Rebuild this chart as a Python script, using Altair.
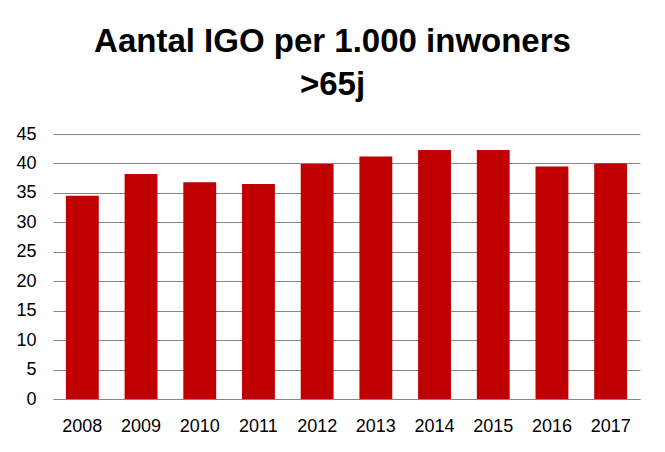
import altair as alt
import pandas as pd

years = ["2008", "2009", "2010", "2011", "2012", "2013", "2014", "2015", "2016", "2017"]
values = [34.5, 38.2, 36.8, 36.5, 39.9, 41.2, 42.3, 42.3, 39.5, 40.0]
y_ticks = [0, 5, 10, 15, 20, 25, 30, 35, 40, 45]
title_lines = ["Aantal IGO per 1.000 inwoners", ">65j"]

df = pd.DataFrame({"year": years, "value": values})

chart = (
    alt.Chart(df)
    .mark_bar(color="#C00000")
    .encode(
        x=alt.X(
            "year:N",
            sort=years,
            scale=alt.Scale(paddingInner=0.44, paddingOuter=0.22),
            axis=alt.Axis(
                title=None,
                labelAngle=0,
                ticks=False,
                domain=True,
                domainColor="#868686",
                labelPadding=18,
                labelFont="Liberation Sans",
                labelFontSize=18,
                labelColor="#000000",
            ),
        ),
        y=alt.Y(
            "value:Q",
            scale=alt.Scale(domain=[0, 45], nice=False),
            axis=alt.Axis(
                title=None,
                values=y_ticks,
                ticks=False,
                domain=False,
                grid=True,
                gridColor="#868686",
                gridWidth=1,
                labelPadding=17,
                labelFont="Liberation Sans",
                labelFontSize=18,
                labelColor="#000000",
            ),
        ),
    )
    .properties(
        width=587,
        height=265,
        autosize=alt.AutoSizeParams(type="none"),
        padding={"left": 45, "top": 126, "right": 17, "bottom": 45},
        title=alt.TitleParams(
            text=title_lines,
            font="Liberation Sans",
            fontSize=33,
            fontWeight="bold",
            color="#000000",
            anchor="middle",
            frame="group",
            dx=-14,
            offset=23,
            lineHeight=43,
        ),
    )
    .configure_view(stroke=None)
)

chart.save("out.html", embed_options={"renderer": "svg", "actions": False})
